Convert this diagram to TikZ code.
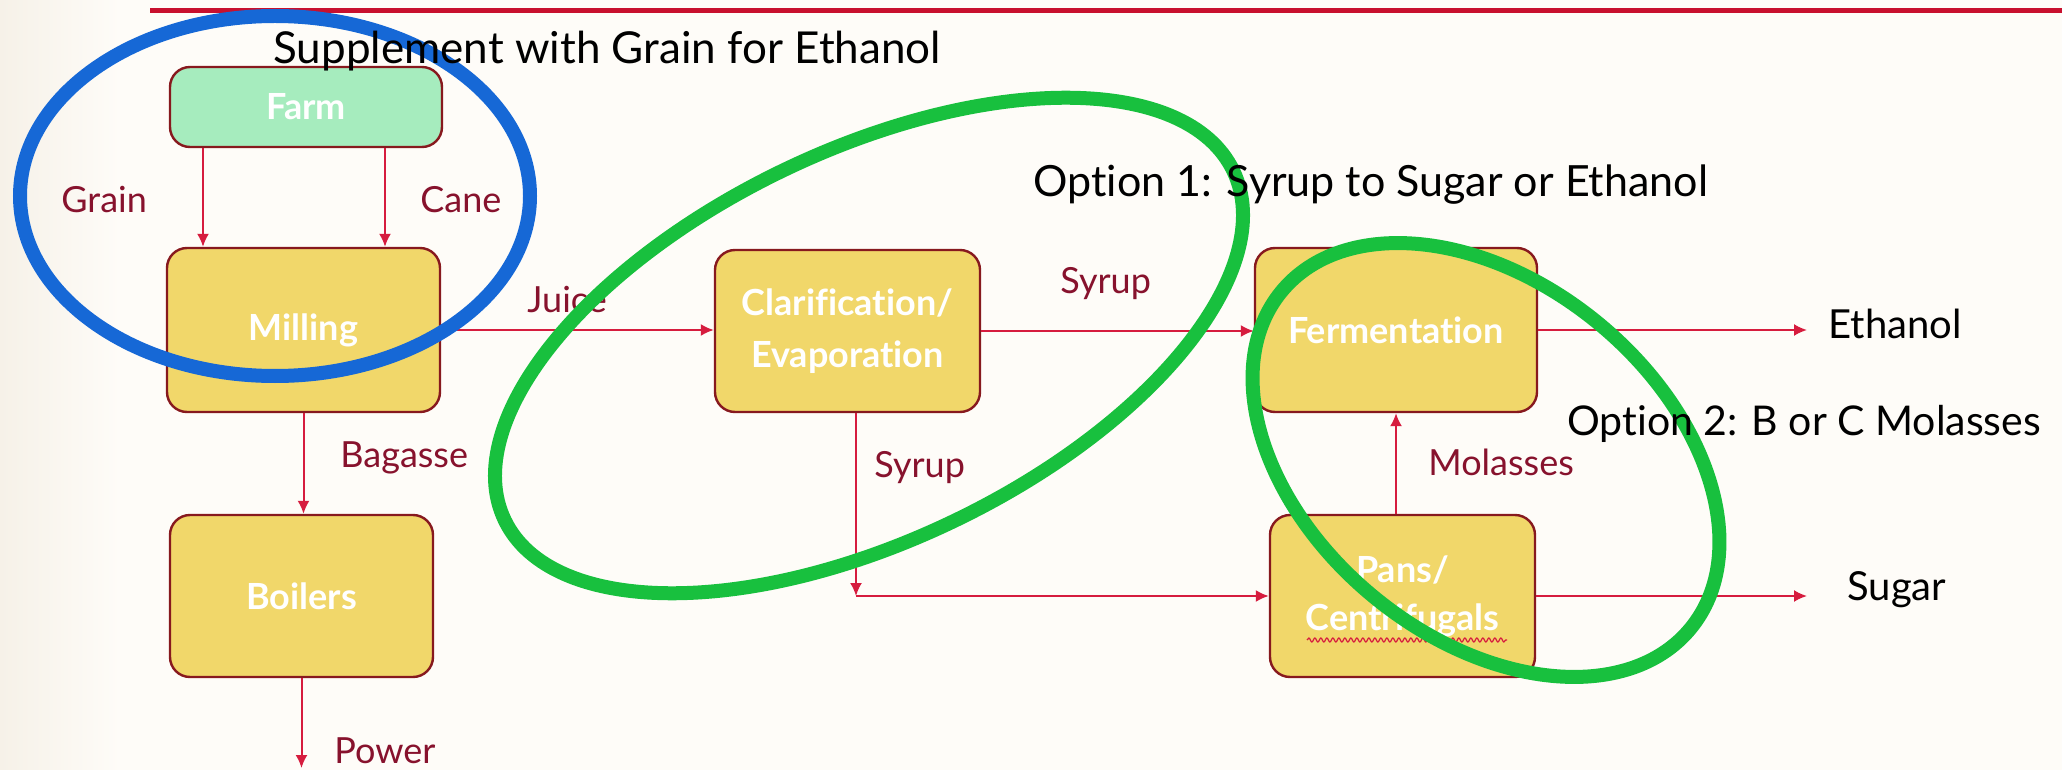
\documentclass[tikz,border=0pt]{standalone}
\usepackage{fontspec}
\setmainfont{Lato}[Ligatures=NoCommon]
\usepackage{tikz}
\usetikzlibrary{arrows.meta, positioning, calc, decorations.pathmorphing}
\usepackage{xcolor}
\definecolor{boxfill}{RGB}{241,215,106}
\definecolor{farmfill}{RGB}{166,236,190}
\definecolor{boxedge}{RGB}{135,25,30}
\definecolor{flowred}{RGB}{214,28,62}
\definecolor{labelred}{RGB}{135,18,45}
\definecolor{topred}{RGB}{200,16,46}
\definecolor{ringblue}{RGB}{22,104,214}
\definecolor{ringgreen}{RGB}{24,192,62}
\definecolor{paper}{RGB}{254,252,248}
\definecolor{papertint}{RGB}{246,241,232}
\tikzset{
    box/.style={draw=boxedge, line width=1.2pt, fill=boxfill, rounded corners=10pt, text=white, align=center, inner sep=0pt, font=\bfseries\fontsize{18}{26}\selectfont},
    farmbox/.style={box, fill=farmfill},
    flow/.style={draw=flowred, line width=1pt, -{Latex[length=6.5pt, width=6pt]}},
    flowlabel/.style={text=labelred, inner sep=0pt, anchor=base west, font=\fontsize{18}{22}\selectfont},
    note/.style={text=black, inner sep=0pt, anchor=base west, font=\fontsize{21.5}{26}\selectfont},
    ring/.style={line width=7pt}
}

\begin{document}
\begin{tikzpicture}[x=0.5pt, y=-0.5pt]
    \useasboundingbox[fill=paper] (0,0) rectangle (2062,770);
    \shade[left color=papertint, right color=paper] (0,0) rectangle (120,770);
    \draw[topred, line width=2.5pt] (150,11) -- (2062,11);

    % process boxes
    \node[farmbox, minimum width=136pt, minimum height=40pt] (farm) at (306,107) {Farm};
    \node[box, minimum width=136.5pt, minimum height=82pt] (milling) at (303.5,330) {Milling};
    \node[box, minimum width=131.5pt, minimum height=81pt] (boilers) at (301.5,596) {Boilers};
    \node[box, minimum width=132.5pt, minimum height=81pt] (clarif) at (847.5,331) {Clarification/\\Evaporation};
    \node[box, minimum width=141pt, minimum height=82pt] (ferm) at (1396,330) {Fermentation};
    \node[box, minimum width=132.5pt, minimum height=81pt, font=\bfseries\fontsize{18}{24}\selectfont] (pans) at (1402.5,596) {Pans/\\Centrifugals};
    \draw[flowred, line width=0.6pt, decorate, decoration={snake, amplitude=1pt, segment length=3pt}] (1307,640) -- (1507,640);

    % products
    \node[note, font=\fontsize{20}{24}\selectfont, inner xsep=10.5pt] (ethanol) at (1807,338) {Ethanol};
    \node[note, font=\fontsize{20}{24}\selectfont, inner xsep=20pt] (sugar) at (1807,600) {Sugar};
    \coordinate (powerend) at (boilers.south |- 0,768);

    % flows
    \coordinate (grainout) at ([xshift=-51.5pt]farm.south);
    \coordinate (caneout) at ([xshift=39.5pt]farm.south);
    \coordinate (split) at ([xshift=4.25pt]clarif.south |- pans.west);
    \draw[flow] (grainout) -- (grainout |- milling.north);
    \draw[flow] (caneout) -- (caneout |- milling.north);
    \draw[flow] (milling.east) -- (milling.east -| clarif.west);
    \draw[flow] (milling.south) -- (milling.south |- boilers.north);
    \draw[flow] (boilers.south) -- (powerend);
    \draw[flow] (clarif.east) -- (clarif.east -| ferm.west);
    \draw[flow] (split |- clarif.south) -- (split);
    \draw[flow] (split) -- (pans.west);
    \draw[flow] (pans.north -| ferm.south) -- (ferm.south);
    \draw[flow] (ferm.east) -- (ferm.east -| ethanol.west);
    \draw[flow] (pans.east) -- (pans.east -| sugar.west);

    \node[flowlabel] (grain) at (61,213) {Grain};
    \node[flowlabel] (cane) at (420,213) {Cane};
    \node[flowlabel] (juice) at (527,313) {Juice};
    \node[flowlabel] (bagasse) at (340,467) {Bagasse};
    \node[flowlabel] (power) at (334,763) {Power};
    \node[flowlabel] (syrupa) at (1060,293) {Syrup};
    \node[flowlabel] (syrupb) at (874,477) {Syrup};
    \node[flowlabel] (molasses) at (1428,475) {Molasses};

    % highlight rings
    \draw[ringblue, ring] (275,196) ellipse (255 and 180);
    \draw[ringgreen, ring, rotate around={25.6:(869,345.5)}] (869,345.5) ellipse (404 and 195);
    \draw[ringgreen, ring, rotate around={-39.5:(1486,460)}] (1486,460) ellipse (265 and 177);

    \node[note, font=\fontsize{22}{26}\selectfont] (supplement) at (273,64) {Supplement with Grain for Ethanol};
    \node[note] (option1) at (1033,197) {Option 1: Syrup to Sugar or Ethanol};
    \node[note, font=\fontsize{20.5}{24}\selectfont] (option2) at (1567,435) {Option 2: B or C Molasses};
\end{tikzpicture}
\end{document}
